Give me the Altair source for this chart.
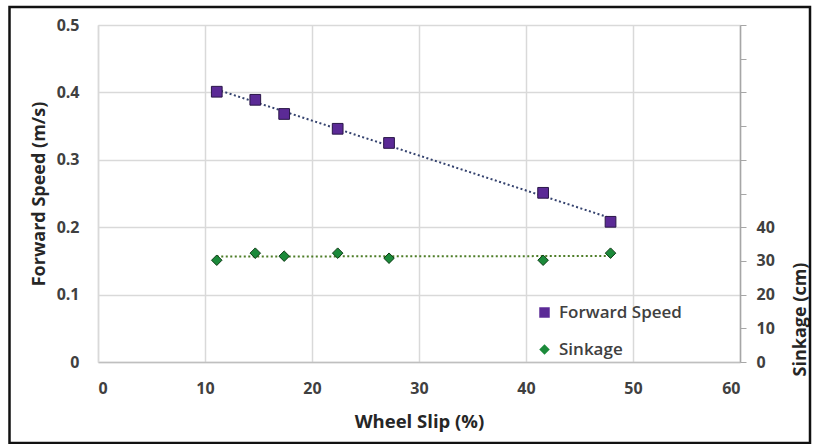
import altair as alt
import pandas as pd

# Data
slip = [11.1, 14.7, 17.4, 22.4, 27.2, 41.6, 47.9]
forward_speed = [0.401, 0.389, 0.368, 0.346, 0.325, 0.251, 0.208]
sinkage = [30.2, 32.3, 31.4, 32.3, 30.8, 30.2, 32.3]
series_names = ["Forward Speed", "Sinkage"]
x_ticks = [0, 10, 20, 30, 40, 50, 60]
y_ticks = [0, 0.1, 0.2, 0.3, 0.4, 0.5]
y2_ticks = [0, 10, 20, 30, 40, 50, 60, 70, 80, 90, 100]

speed_df = pd.DataFrame({"slip": slip, "value": forward_speed, "series": series_names[0]})
sink_df = pd.DataFrame({"slip": slip, "value": sinkage, "series": series_names[1]})

FONT = "Open Sans"
TXT = "#404040"

x_scale = alt.Scale(domain=[0, 60], nice=False)
x_axis = alt.Axis(
    title="Wheel Slip (%)", values=x_ticks, grid=True, gridColor="#d9d9d9", gridWidth=1.5,
    ticks=False, domainColor="#bfbfbf", domainWidth=1.5,
    labelFont=FONT, labelFontSize=16, labelFontWeight="bold", labelColor=TXT, labelPadding=18,
    titleFont=FONT, titleFontSize=18.5, titleFontWeight="bold", titleColor="#262626", titlePadding=16,
)

y_scale = alt.Scale(domain=[0, 0.5], nice=False)
y_axis = alt.Axis(
    title="Forward Speed (m/s)", values=y_ticks, orient="left", grid=True, format="~g",
    gridColor="#d9d9d9", gridWidth=1.5, ticks=False, domainColor="#d9d9d9", domainWidth=1.5,
    labelFont=FONT, labelFontSize=16, labelFontWeight="bold", labelColor=TXT, labelPadding=19,
    titleFont=FONT, titleFontSize=18, titleFontWeight="bold", titleColor="#262626", titlePadding=8,
)

y2_scale = alt.Scale(domain=[0, 100], nice=False)
y2_axis = alt.Axis(
    title="Sinkage (cm)", values=y2_ticks, orient="right", grid=False, labelOverlap=False,
    ticks=True, tickSize=6, tickColor="#a6a6a6", domainColor="#a6a6a6", domainWidth=1.5,
    labelExpr="datum.value <= 40 ? datum.label : ''",
    labelFont=FONT, labelFontSize=16, labelFontWeight="bold", labelColor=TXT, labelPadding=10,
    titleFont=FONT, titleFontSize=18, titleFontWeight="bold", titleColor="#262626",
    titleAngle=270, titleX=60, titleY=294, titleAlign="center", titleBaseline="middle",
)

color_scale = alt.Scale(domain=series_names, range=["#5b2a96", "#1b8a3a"])
shape_scale = alt.Scale(domain=series_names, range=["square", "diamond"])

legend = alt.Legend(
    title=None, orient="none", legendX=438, legendY=279,
    labelFont=FONT, labelFontSize=17, labelFontWeight=600, labelColor=TXT,
    symbolSize=110, symbolStrokeWidth=1, symbolStrokeColor="#222222", symbolOpacity=1,
    rowPadding=19, labelOffset=6,
)

speed_line = alt.Chart(speed_df).transform_regression("slip", "value").mark_line(
    color="#34426e", strokeDash=[2, 2.5], strokeWidth=2
).encode(
    x=alt.X("slip:Q", scale=x_scale, axis=x_axis),
    y=alt.Y("value:Q", scale=y_scale, axis=y_axis),
)

speed_pts = alt.Chart(speed_df).mark_point(
    filled=True, opacity=1, size=115, stroke="#2a1748", strokeWidth=1
).encode(
    x=alt.X("slip:Q", scale=x_scale, axis=x_axis),
    y=alt.Y("value:Q", scale=y_scale, axis=y_axis),
    color=alt.Color("series:N", scale=color_scale, legend=legend),
    shape=alt.Shape("series:N", scale=shape_scale, legend=legend),
)

sink_line = alt.Chart(sink_df).transform_regression("slip", "value").mark_line(
    color="#4e7d28", strokeDash=[2, 2.5], strokeWidth=2
).encode(
    x=alt.X("slip:Q", scale=x_scale, axis=x_axis),
    y=alt.Y("value:Q", scale=y2_scale, axis=y2_axis),
)

sink_pts = alt.Chart(sink_df).mark_point(
    filled=True, opacity=1, size=110, stroke="#0c3a14", strokeWidth=1
).encode(
    x=alt.X("slip:Q", scale=x_scale, axis=x_axis),
    y=alt.Y("value:Q", scale=y2_scale, axis=y2_axis),
    color=alt.Color("series:N", scale=color_scale, legend=legend),
    shape=alt.Shape("series:N", scale=shape_scale, legend=legend),
)

frame = alt.Chart(pd.DataFrame({"f": [0]})).mark_rect(
    fill=None, stroke="#111111", strokeWidth=2.5, clip=False
).encode(
    x=alt.value(-88.5), x2=alt.value(712), y=alt.value(-18), y2=alt.value(418)
)

speed_layer = alt.layer(speed_line, speed_pts)
sink_layer = alt.layer(sink_line, sink_pts)

chart = alt.layer(speed_layer, sink_layer, frame).resolve_scale(
    y="independent"
).properties(
    width=642, height=337,
    autosize=alt.AutoSizeParams(type="none"),
    padding={"left": 98, "top": 25, "right": 74, "bottom": 82},
).configure_view(
    stroke=None
).configure(background="white")

chart.save("out.html", embed_options={"renderer": "svg", "actions": False})
